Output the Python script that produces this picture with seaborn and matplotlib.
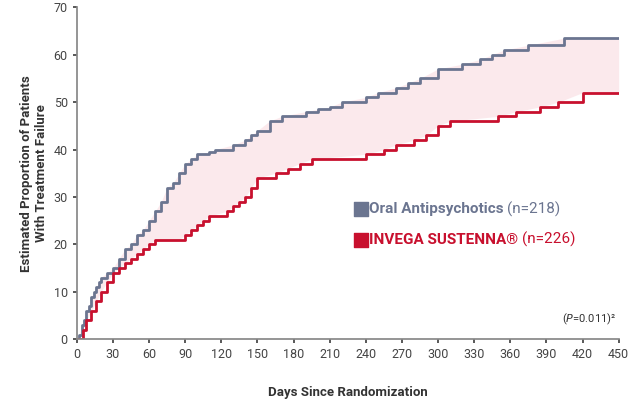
import matplotlib
matplotlib.use("Agg")
import matplotlib.pyplot as plt
import seaborn as sns
import numpy as np
import pandas as pd

oral_days = [0,2,4,6,8,10,12,14,16,18,20,25,30,35,40,45,50,55,60,65,70,75,80,85,90,95,100,110,115,130,140,145,150,160,170,190,200,210,220,240,250,265,275,285,300,320,335,345,355,375,405,450]
oral_vals = [0,1,3,4,6,7,9,10,11,12,13,14,15,17,19,20,22,23,25,27,29,32,33,35,37,38,39,39.5,40,41,42,43,44,46,47,48,48.5,49,50,51,52,53,54,55,57,58,59,60,61,62,63.5,63.5]
inv_days = [0,5,8,12,16,20,25,30,35,40,45,50,55,60,65,85,90,95,100,105,110,125,130,135,140,145,150,165,175,185,195,240,255,265,280,290,300,310,350,365,385,400,420,450]
inv_vals = [0,2,4,6,8,10,12,14,15,16,17,18,19,20,21,21,22,23,24,25,26,27,28,29,30,32,34,35,36,37,38,39,40,41,42,43,45,46,47,48,49,50,52,52]

sns.set_theme(style="white")
plt.rcParams['font.family'] = ['Roboto', 'DejaVu Sans']
fig, ax = plt.subplots(figsize=(6.3, 4.03), dpi=100)
fig.subplots_adjust(left=0.122, right=0.982, top=0.982, bottom=0.158)

gray = "#6b7590"; red = "#c8102e"
df_o = pd.DataFrame({"d": oral_days, "v": oral_vals})
df_i = pd.DataFrame({"d": inv_days, "v": inv_vals})
sns.lineplot(data=df_o, x="d", y="v", drawstyle="steps-post", color=gray, lw=2, ax=ax)
sns.lineplot(data=df_i, x="d", y="v", drawstyle="steps-post", color=red, lw=2, ax=ax)
grid = np.linspace(0, 450, 901)
oi = np.interp(grid, oral_days, oral_vals); ii = np.interp(grid, inv_days, inv_vals)
ax.fill_between(grid, ii, oi, color="#fbe4e8", alpha=0.8, lw=0)

ax.set_xlim(0, 450); ax.set_ylim(0, 70)
ax.set_xticks(range(0, 451, 30)); ax.set_yticks(range(0, 71, 10))
ax.tick_params(labelsize=9, colors="#444444", length=3, bottom=True, left=True)
for s in ["top", "right"]:
    ax.spines[s].set_visible(False)
for s in ["left", "bottom"]:
    ax.spines[s].set_color("#888888")
ax.set_xlabel("Days Since Randomization", fontsize=9.5, fontweight="bold", color="#333333", labelpad=18)
ax.set_ylabel("Estimated Proportion of Patients\nWith Treatment Failure", fontsize=9.5, fontweight="bold", color="#333333")

fig.canvas.draw()
r = fig.canvas.get_renderer()
def legend_row(y, label, tail, color):
    ax.scatter([236], [y], marker="s", s=90, color=color)
    t = ax.text(243, y, label, fontsize=11, fontweight="bold", color=color, va="center")
    bb = t.get_window_extent(renderer=r)
    x_end = ax.transData.inverted().transform((bb.x1 + 3, 0))[0]
    ax.text(x_end, y, tail, fontsize=11, color=color, va="center")
legend_row(27.5, "Oral Antipsychotics", "(n=218)", gray)
legend_row(21, "INVEGA SUSTENNA®", "(n=226)", red)
ax.text(448, 3.5, "($P$=0.011)²", fontsize=8, color="#333333", ha="right")
fig.savefig("out.png", dpi=100)
